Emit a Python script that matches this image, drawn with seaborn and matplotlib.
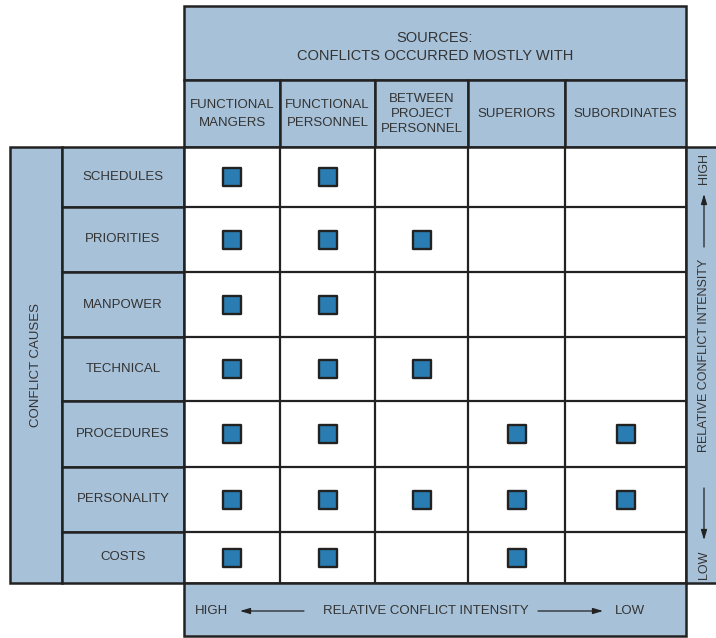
import numpy as np
import pandas as pd
import matplotlib
matplotlib.use("Agg")
import matplotlib.pyplot as plt
from matplotlib.patches import Rectangle
import seaborn as sns

# données : causes de conflit x sources
causes = ["SCHEDULES", "PRIORITIES", "MANPOWER", "TECHNICAL",
          "PROCEDURES", "PERSONALITY", "COSTS"]
sources = ["FUNCTIONAL\nMANGERS", "FUNCTIONAL\nPERSONNEL",
           "BETWEEN\nPROJECT\nPERSONNEL", "SUPERIORS", "SUBORDINATES"]
occurs = [
    [1, 1, 0, 0, 0],
    [1, 1, 1, 0, 0],
    [1, 1, 0, 0, 0],
    [1, 1, 1, 0, 0],
    [1, 1, 0, 1, 1],
    [1, 1, 1, 1, 1],
    [1, 1, 0, 1, 0],
]

# mise en page (pixels)
col_edges = [184, 280, 375, 468, 565, 686]
row_edges = [147, 207, 272, 337, 401, 467, 532, 583]

FILL = "#a7c1d8"
EDGE = "#222222"
TXT = "#333333"
FONT = ["Liberation Sans", "DejaVu Sans"]
FS = 9.5

sns.set_theme(style="white")
plt.rcParams["font.family"] = FONT

fig = plt.figure(figsize=(7.16, 6.38), dpi=100)
ax = fig.add_axes([0, 0, 1, 1])

def box(x0, y0, x1, y1, fc=FILL, lw=1.8):
    ax.add_patch(Rectangle((x0, y0), x1 - x0, y1 - y0, facecolor=fc,
                           edgecolor=EDGE, linewidth=lw, zorder=1))

# en-tête principal
box(184, 6, 686, 80)
ax.text(435, 47, "SOURCES:\nCONFLICTS OCCURRED MOSTLY WITH", ha="center",
        va="center", fontsize=10.5, color=TXT, linespacing=1.4)

# en-têtes de colonnes
for i, s in enumerate(sources):
    box(col_edges[i], 80, col_edges[i + 1], row_edges[0])
    nl = s.count("\n")
    ax.text((col_edges[i] + col_edges[i + 1]) / 2, 114, s, ha="center",
            va="center", fontsize=FS, color=TXT,
            linespacing=1.6 if nl == 1 else 1.3)

# bande gauche + étiquettes de lignes
box(10, row_edges[0], 62, row_edges[-1])
ax.text(36, (row_edges[0] + row_edges[-1]) / 2, "CONFLICT CAUSES",
        rotation=90, ha="center", va="center", fontsize=FS, color=TXT)
for i, c in enumerate(causes):
    box(62, row_edges[i], 184, row_edges[i + 1])
    ax.text(123, (row_edges[i] + row_edges[i + 1]) / 2, c, ha="center",
            va="center", fontsize=FS, color=TXT)

# grille blanche
box(184, row_edges[0], 686, row_edges[-1], fc="white")
for x in col_edges[1:-1]:
    ax.plot([x, x], [row_edges[0], row_edges[-1]], color=EDGE, lw=1.6, zorder=2)
for y in row_edges[1:-1]:
    ax.plot([184, 686], [y, y], color=EDGE, lw=1.6, zorder=2)

# bande droite (intensité verticale)
box(686, row_edges[0], 740, row_edges[-1])
xr = 704
ax.text(xr, 168, "HIGH", rotation=90, ha="center", va="center",
        fontsize=9, color=TXT)
ax.text(xr, 565, "LOW", rotation=90, ha="center", va="center",
        fontsize=9, color=TXT)
ax.text(xr, 355, "RELATIVE CONFLICT INTENSITY", rotation=90, ha="center",
        va="center", fontsize=9, color=TXT)
arrow = dict(arrowstyle="-|>,head_length=0.5,head_width=0.15", color=EDGE,
             lw=0.9, shrinkA=0, shrinkB=0)
ax.annotate("", xy=(xr, 194), xytext=(xr, 247), arrowprops=arrow, zorder=3)
ax.annotate("", xy=(xr, 540), xytext=(xr, 488), arrowprops=arrow, zorder=3)

# bande du bas (intensité horizontale)
box(184, row_edges[-1], 686, 636)
yb = 611
ax.text(212, yb, "HIGH", ha="center", va="center", fontsize=FS, color=TXT)
ax.text(630, yb, "LOW", ha="center", va="center", fontsize=FS, color=TXT)
ax.text(426, yb, "RELATIVE CONFLICT INTENSITY", ha="center", va="center",
        fontsize=FS, color=TXT)
ax.annotate("", xy=(240, yb), xytext=(304, yb), arrowprops=arrow, zorder=3)
ax.annotate("", xy=(603, yb), xytext=(538, yb), arrowprops=arrow, zorder=3)

# marqueurs
col_c = [(col_edges[i] + col_edges[i + 1]) / 2 for i in range(len(sources))]
row_c = [(row_edges[i] + row_edges[i + 1]) / 2 for i in range(len(causes))]
recs = []
for i, c in enumerate(causes):
    for j, s in enumerate(sources):
        if occurs[i][j]:
            recs.append({"cause": c, "source": s, "x": col_c[j], "y": row_c[i]})
df = pd.DataFrame(recs)

sns.scatterplot(data=df, x="x", y="y", marker="s", s=180, color="#2a7db3",
                edgecolor=EDGE, linewidth=1.7, ax=ax, zorder=4, legend=False)
ax.set_xlim(0, 716)
ax.set_ylim(638, 0)
ax.axis("off")

fig.savefig("out.png", dpi=100, facecolor="white")
